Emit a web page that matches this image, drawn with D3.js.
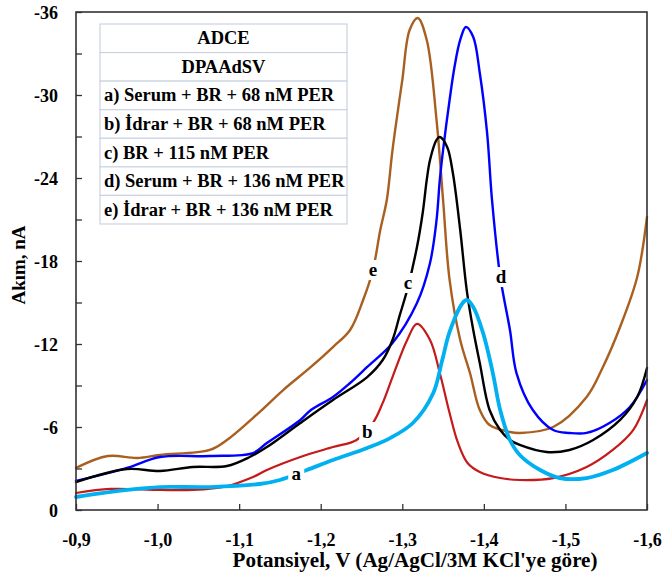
<!DOCTYPE html>
<html>
<head>
<meta charset="utf-8">
<script src="https://cdn.jsdelivr.net/npm/d3@7/dist/d3.min.js"></script>
<style>
  html, body { margin: 0; padding: 0; background: #fff; }
  svg { display: block; }
  text { font-family: "Liberation Serif", "Times New Roman", serif; font-weight: bold; fill: #000; }
</style>
</head>
<body>
<svg id="chart" width="666" height="578"></svg>
<script>
// ---------- data (V vs. current in nA) ----------
const xTicks = [-0.9, -1.0, -1.1, -1.2, -1.3, -1.4, -1.5, -1.6];
const yTicks = [0, -6, -12, -18, -24, -30, -36];
const yMinorTicks = [-3, -9, -15, -21, -27, -33];

// a) Serum + BR + 68 nM PER (cyan)
const aV = [-0.900,-0.9625,-1.003,-1.064,-1.125,-1.150,-1.183,-1.215,-1.257,-1.285,-1.313,-1.338,-1.349,-1.358,-1.374,-1.379,-1.387,-1.399,-1.411,-1.420,-1.432,-1.444,-1.469,-1.493,-1.526,-1.558,-1.600];
const aI = [-0.94,-1.45,-1.66,-1.66,-1.88,-2.17,-2.89,-3.61,-4.48,-5.20,-6.29,-8.46,-10.84,-12.87,-14.96,-15.18,-14.68,-12.80,-9.90,-7.23,-5.06,-3.98,-2.89,-2.31,-2.31,-2.89,-4.12];

// b) İdrar + BR + 68 nM PER (red)
const bV = [-0.900,-0.942,-1.003,-1.043,-1.085,-1.117,-1.134,-1.175,-1.215,-1.244,-1.264,-1.276,-1.288,-1.306,-1.318,-1.334,-1.346,-1.358,-1.368,-1.380,-1.395,-1.420,-1.444,-1.485,-1.526,-1.558,-1.583,-1.600];
const bI = [-1.23,-1.52,-1.45,-1.45,-1.73,-2.39,-2.89,-3.83,-4.55,-5.06,-6.29,-7.74,-9.61,-12.29,-13.45,-12.29,-9.90,-7.01,-4.90,-3.40,-2.75,-2.31,-2.17,-2.31,-3.11,-4.34,-5.78,-7.95];

// c) BR + 115 nM PER (black)
const cV = [-0.900,-0.9625,-1.003,-1.043,-1.085,-1.113,-1.134,-1.175,-1.215,-1.257,-1.276,-1.288,-1.297,-1.306,-1.318,-1.325,-1.330,-1.334,-1.342,-1.346,-1.355,-1.362,-1.371,-1.379,-1.387,-1.395,-1.407,-1.420,-1.432,-1.444,-1.477,-1.505,-1.534,-1.567,-1.588,-1.600];
const cI = [-2.02,-2.96,-2.82,-3.11,-3.18,-3.83,-4.55,-6.29,-7.95,-9.61,-10.84,-12.29,-14.10,-15.90,-19.01,-21.47,-23.86,-25.30,-26.75,-26.96,-26.24,-24.36,-20.24,-15.90,-13.01,-10.63,-7.23,-5.78,-5.06,-4.70,-4.19,-4.34,-5.06,-6.51,-8.17,-10.27];

// d) Serum + BR + 136 nM PER (blue)
const dV = [-0.900,-0.9625,-1.003,-1.064,-1.117,-1.134,-1.175,-1.188,-1.215,-1.236,-1.257,-1.288,-1.318,-1.334,-1.342,-1.346,-1.350,-1.358,-1.364,-1.371,-1.378,-1.387,-1.395,-1.404,-1.410,-1.420,-1.432,-1.440,-1.460,-1.485,-1.505,-1.526,-1.554,-1.579,-1.600];
const dI = [-2.10,-3.04,-3.83,-3.90,-4.12,-4.84,-6.51,-7.23,-8.17,-9.18,-10.34,-12.07,-14.96,-17.86,-20.96,-23.86,-26.02,-29.64,-32.02,-33.98,-34.92,-34.19,-31.59,-27.25,-22.41,-16.90,-13.01,-9.90,-7.23,-5.78,-5.57,-5.57,-6.29,-7.45,-9.40];

// e) İdrar + BR + 136 nM PER (brown)
const eV = [-0.900,-0.939,-0.975,-1.003,-1.064,-1.085,-1.125,-1.154,-1.188,-1.215,-1.236,-1.252,-1.264,-1.273,-1.281,-1.288,-1.300,-1.309,-1.319,-1.330,-1.342,-1.350,-1.358,-1.371,-1.383,-1.395,-1.407,-1.432,-1.444,-1.485,-1.526,-1.546,-1.567,-1.588,-1.600];
const eI = [-3.04,-3.90,-3.76,-3.98,-4.34,-5.06,-7.08,-8.67,-10.34,-11.78,-13.01,-15.18,-17.35,-20.24,-22.41,-26.02,-31.08,-34.70,-35.57,-33.98,-28.19,-22.41,-16.63,-12.29,-9.90,-7.23,-6.14,-5.64,-5.57,-6.00,-8.17,-10.34,-13.23,-16.84,-21.18];

const legendRows = ["ADCE", "DPAAdSV", "a) Serum + BR + 68 nM PER", "b) İdrar + BR + 68 nM PER",
  "c) BR + 115 nM PER", "d) Serum + BR + 136 nM PER", "e) İdrar + BR + 136 nM PER"];

const curveLabels = ["a", "b", "c", "d", "e"];
const labelV = [-1.170, -1.257, -1.307, -1.421, -1.264];
const labelI = [-2.60, -5.64, -16.41, -16.84, -17.35];

// ---------- drawing ----------
const svg = d3.select("#chart");
const L = 76, R = 647, T = 12, B = 510;
const x = d3.scaleLinear().domain([-0.9, -1.6]).range([L, R]);
const y = d3.scaleLinear().domain([0, -36]).range([B, T]);

const series = [
  { V: eV, I: eI, color: "#a85f1f", w: 2.4 },
  { V: dV, I: dI, color: "#0000ff", w: 2.4 },
  { V: cV, I: cI, color: "#000000", w: 2.4 },
  { V: bV, I: bI, color: "#c41a1a", w: 2.2 },
  { V: aV, I: aI, color: "#00b0f0", w: 3.8 }
];

const line = d3.line().x(d => x(d[0])).y(d => y(d[1])).curve(d3.curveCatmullRom.alpha(0.5));
const gLines = svg.append("g");
series.forEach(s => {
  gLines.append("path")
    .attr("d", line(s.V.map((v, i) => [v, s.I[i]])))
    .attr("fill", "none").attr("stroke", s.color)
    .attr("stroke-width", s.w).attr("stroke-linejoin", "round").attr("stroke-linecap", "round");
});

// curve labels with white knockouts
const gLab = svg.append("g");
curveLabels.forEach((t, i) => {
  const cx = x(labelV[i]), cy = y(labelI[i]);
  gLab.append("rect").attr("x", cx - 8).attr("y", cy - 10).attr("width", 16).attr("height", 20).attr("fill", "#fff");
  gLab.append("text").attr("x", cx).attr("y", cy + 6).attr("text-anchor", "middle")
    .attr("font-size", 19).text(t);
});

// axes
const axisColor = "#333";
const xAxis = d3.axisBottom(x).tickValues(xTicks).tickSize(-6).tickFormat(() => "");
const gx = svg.append("g").attr("transform", `translate(0,${B})`).call(xAxis);
gx.select(".domain").remove();
gx.selectAll("line").attr("stroke", axisColor).attr("stroke-width", 1.3);
gx.selectAll(".tick").append("text")
  .attr("y", 36).attr("text-anchor", "middle").attr("font-size", 18)
  .text(d => d.toFixed(1).replace(".", ","));

const yAxis = d3.axisLeft(y).tickValues(yTicks.concat(yMinorTicks)).tickSize(-6).tickFormat(() => "");
const gy = svg.append("g").attr("transform", `translate(${L},0)`).call(yAxis);
gy.select(".domain").remove();
gy.selectAll("line").attr("stroke", axisColor).attr("stroke-width", 1.3);
gy.selectAll(".tick").filter(d => yTicks.includes(d)).append("text")
  .attr("x", -18).attr("dy", "0.34em").attr("text-anchor", "end").attr("font-size", 18)
  .text(d => String(d));

// frame
svg.append("rect").attr("x", L).attr("y", T).attr("width", R - L).attr("height", B - T)
  .attr("fill", "none").attr("stroke", axisColor).attr("stroke-width", 1.6);

// axis titles
svg.append("text").attr("x", 415).attr("y", 567).attr("text-anchor", "middle").attr("font-size", 20)
  .attr("textLength", 365).attr("lengthAdjust", "spacingAndGlyphs")
  .text("Potansiyel, V (Ag/AgCl/3M KCl'ye göre)");
svg.append("text").attr("transform", "translate(25,265) rotate(-90)").attr("text-anchor", "middle")
  .attr("font-size", 19).text("Akım, nA");

// legend table
const lx = 100, lw = 247, ly = 24, rh = 28.57;
const gLeg = svg.append("g");
legendRows.forEach((t, i) => {
  gLeg.append("rect").attr("x", lx).attr("y", ly + i * rh).attr("width", lw).attr("height", rh)
    .attr("fill", "#fff").attr("stroke", "#cbd3e3").attr("stroke-width", 1.2);
  const centered = i < 2;
  gLeg.append("text")
    .attr("x", centered ? lx + lw / 2 : lx + 4)
    .attr("y", ly + i * rh + rh / 2 + 6)
    .attr("text-anchor", centered ? "middle" : "start")
    .attr("font-size", 18.5).text(t);
});
</script>
</body>
</html>
